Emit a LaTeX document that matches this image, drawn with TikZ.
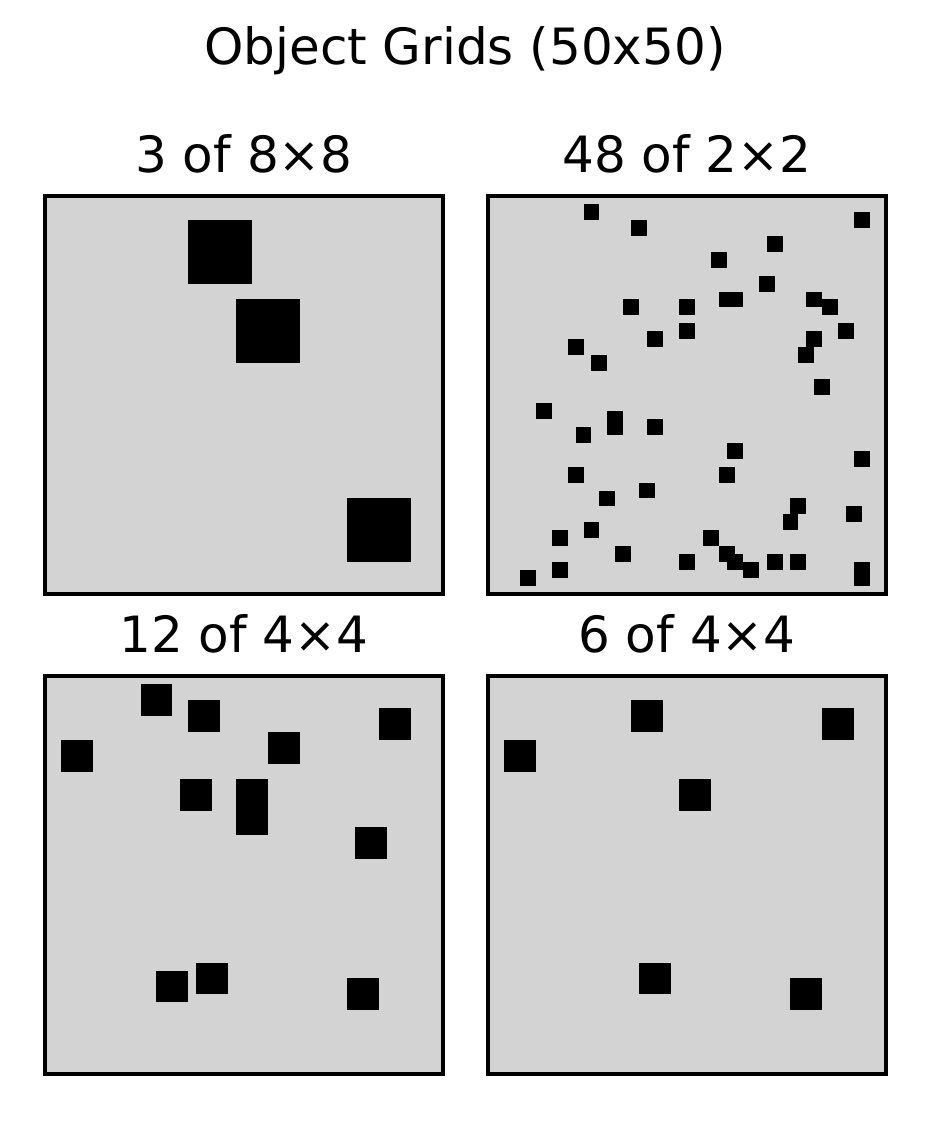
\documentclass[tikz,border=0pt]{standalone}
\usepackage{fontspec}
\setmainfont{DejaVu Sans}
\definecolor{gridbg}{RGB}{211,211,211}

% one 50x50 grid: left, top, object size, list of row/col
\newcommand{\objgrid}[4]{%
  \fill[gridbg] (#1,#2) rectangle ++(\side,\side);
  \foreach \r/\c in {#4} {
    \fill[black] (#1+\c*\cell,#2+\r*\cell) rectangle ++(#3*\cell,#3*\cell);
  }
  \draw[frame] (#1,#2) rectangle ++(\side,\side);
}

\begin{document}
\begin{tikzpicture}[x=0.24bp,y=-0.24bp,line join=miter,
    frame/.style={line width=0.8bp},
    head/.style={anchor=base,inner sep=0pt,font=\fontsize{12bp}{14bp}\selectfont}]
  \def\side{398}
  \pgfmathsetmacro{\cell}{\side/50}
  \useasboundingbox (0,0) rectangle (930,1140);

  \node[head] (title) at (465,64) {Object Grids (50x50)};

  \node[head] (headA) at (244,172) {3 of 8×8};
  \node[head] (headB) at (687,172) {48 of 2×2};
  \node[head] (headC) at (244,652) {12 of 4×4};
  \node[head] (headD) at (687,652) {6 of 4×4};

  \objgrid{45}{196}{8}{3/18,13/24,38/38}

  \objgrid{488}{196}{2}{1/12,3/18,13/17,13/24,16/24,17/20,18/10,20/13,
    2/46,5/35,7/28,10/34,12/29,12/30,12/40,13/42,16/44,17/40,19/39,23/41,
    26/6,27/15,28/15,28/20,29/11,34/10,36/19,37/14,41/12,42/8,44/16,45/24,46/8,47/4,
    31/30,32/46,34/29,38/38,40/37,39/45,42/27,44/29,45/30,46/32,45/35,45/38,46/46,47/46}

  \objgrid{45}{676}{4}{1/12,3/18,4/42,8/2,7/28,13/17,13/24,16/24,19/39,37/14,36/19,38/38}

  \objgrid{488}{676}{4}{3/18,4/42,8/2,13/24,36/19,38/38}
\end{tikzpicture}
\end{document}
